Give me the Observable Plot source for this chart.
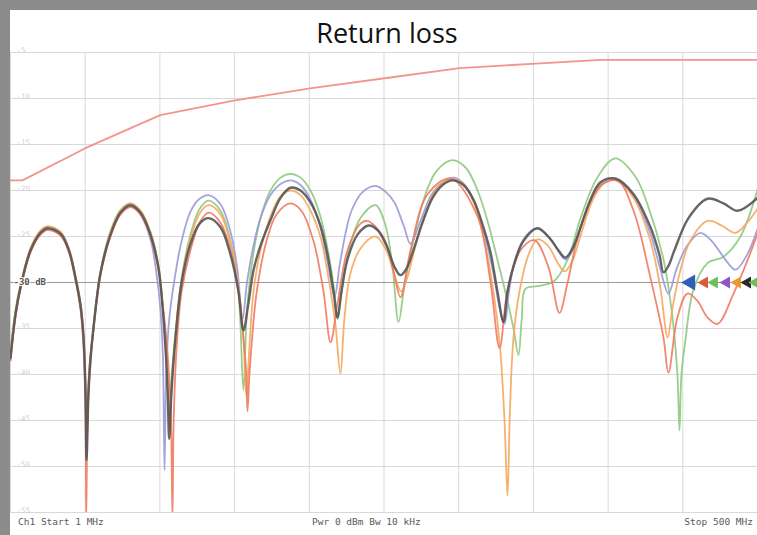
<!DOCTYPE html>
<html>
<head>
<meta charset="utf-8">
<script src="https://cdn.jsdelivr.net/npm/d3@7"></script>
<script src="https://cdn.jsdelivr.net/npm/@observablehq/plot@0.6"></script>
<style>
  html, body { margin: 0; padding: 0; background: #fff; }
  #wrap { position: relative; width: 757px; height: 535px; overflow: hidden; background: #fff; }
  #topband { position: absolute; left: 0; top: 0; width: 757px; height: 10px; background: #8c8c8c; }
  #leftband { position: absolute; left: 0; top: 0; width: 10px; height: 535px; background: #8c8c8c; }
  #title { position: absolute; left: 17px; width: 740px; top: 19px; text-align: center; line-height: 27px;
           font-family: "Open Sans", sans-serif; font-size: 27px; color: #111; }
  #chart { position: absolute; left: 10px; top: 44px; }
  .foot { position: absolute; top: 516px; font-family: "DejaVu Sans Mono", monospace; font-size: 9.5px; color: #5a5a5a; }
</style>
</head>
<body>
<div id="wrap">
  <div id="topband"></div>
  <div id="leftband"></div>
  <div id="title">Return loss</div>
  <div id="chart"></div>
  <div class="foot" style="left:18px">Ch1 Start 1 MHz</div>
  <div class="foot" style="left:312px">Pwr 0 dBm Bw 10 kHz</div>
  <div class="foot" style="right:4px">Stop 500 MHz</div>
</div>
<script>
// grid (MHz and dB)
const xGrid = [1, 50.9, 100.8, 150.7, 200.6, 250.5, 300.4, 350.3, 400.2, 450.1, 500];
const yGrid = [-5, -10, -15, -20, -25, -30, -35, -40, -45, -50, -55];
const yLabels = ["-5", "-10", "-15", "-20", "-25", "-30 dB", "-35", "-40", "-45", "-50", "-55"];

// upper limit-like trace
const limitTrace = [[1,-18.9],[9,-18.9],[51,-15.4],[101,-11.8],[151,-10.2],[201,-8.9],[251,-7.8],[301,-6.7],[352,-6.2],[395,-5.8],[500,-5.8]];

const blackTrace = [[1,-38.2],[4.3,-33.5],[7.7,-30.5],[14.4,-26.5],[21,-24.6],[25.7,-24.1],[34.4,-24.7],[40,-26.5],[44.4,-29.5],[47.8,-32.5],[49.8,-36],[51.1,-42],[51.8,-49.3],[53.1,-42],[54.4,-38.5],[56.4,-35],[61.1,-29],[67.8,-24.8],[74.5,-22.4],[81.1,-21.6],[87.8,-22.4],[94.5,-24.8],[99.9,-28.5],[102.5,-32.5],[104.5,-37],[106,-42],[107,-47],[108.5,-42],[111.2,-36],[115.3,-30],[121.2,-25.8],[127.3,-23.6],[133.3,-23.0],[141.3,-24],[148,-27],[153.3,-31],[156.6,-35.2],[159.9,-32.3],[163.3,-28.7],[168,-26],[174.7,-23.2],[181.4,-20.8],[188,-19.7],[194.7,-20.0],[201.4,-21.3],[208,-23.8],[212.8,-27.0],[216.8,-31],[219.4,-33.8],[222.1,-31],[226.1,-27.5],[232.8,-24.8],[240.2,-23.8],[246.2,-24.3],[252.2,-26.0],[257.5,-28.3],[261.5,-29.2],[265.5,-28.5],[269.5,-26.8],[276.2,-23.5],[282.9,-20.8],[289.6,-19.4],[296.2,-18.9],[303.6,-19.4],[310.3,-21.0],[316.9,-24.0],[321.6,-26.7],[326.3,-31.0],[330.3,-34.3],[333,-31],[336.9,-28.3],[343.6,-25.5],[353,-24.1],[361.7,-25.3],[367,-26.5],[371.7,-27.3],[376.4,-26.3],[381.8,-24.0],[388.4,-21.0],[395.1,-19.1],[405.1,-18.7],[417.2,-20.4],[428.5,-24.0],[434.5,-27.0],[437.2,-28.9],[440.5,-28.2],[444.5,-26.5],[453.9,-23.0],[466.6,-20.9],[477.3,-21.4],[486.6,-22.2],[500,-20.8]];

const redTrace = [[1,-38.5],[4.3,-33.8],[7.7,-30.7],[14.4,-26.7],[21,-24.8],[25.7,-24.3],[34.4,-24.9],[40,-26.7],[44.4,-29.7],[47.8,-33],[49.8,-37],[51.1,-44],[51.6,-55.5],[52.4,-45],[53.8,-39],[56.4,-35.2],[61.1,-29.2],[67.8,-25],[74.5,-22.6],[81.1,-21.8],[87.8,-22.6],[94.5,-25],[99.9,-28.6],[102.5,-32.2],[104.5,-35],[106.5,-39],[108.2,-45],[109.2,-55.5],[110,-45],[112,-37],[115.3,-31],[121.2,-26.5],[127.3,-23.5],[133.3,-22.4],[141.3,-23.5],[148,-26.5],[153.3,-31],[156.6,-36],[158.5,-40],[159.3,-44],[160.6,-40],[161.9,-37.1],[165.3,-31.2],[172,-25.5],[178.7,-22.6],[188,-21.4],[195.3,-22.2],[203.4,-25.5],[210.1,-31],[214.8,-36.5],[219.4,-32.3],[226.1,-26.5],[234.8,-23.6],[239.5,-23.3],[250.2,-25.1],[256.8,-28.7],[261.5,-31.6],[268.2,-26.5],[279.6,-20.4],[295,-18.7],[312.9,-22.8],[321.6,-29.9],[327.7,-37.1],[333,-30.9],[341.7,-26.5],[351,-25.4],[360.3,-28.3],[367.7,-33.3],[373,-30.1],[381.8,-24.0],[395.1,-19.5],[406.4,-18.9],[417.2,-22.2],[428.5,-29.5],[437.2,-36.0],[440.5,-39.8],[446.5,-33.8],[453.2,-31.2],[459.9,-32],[466.6,-33.8],[473.3,-34.5],[484,-31.2],[493.3,-27.6],[500,-24.7]];

const orangeTrace = [[1,-38],[4.3,-33.3],[7.7,-30.3],[14.4,-26.3],[21,-24.4],[25.7,-23.9],[34.4,-24.5],[40,-26.3],[44.4,-29.3],[47.8,-32.3],[49.8,-36],[51.1,-41],[51.8,-47],[53.1,-42],[54.4,-38.5],[56.4,-35],[61.1,-29],[67.8,-24.6],[74.5,-22.2],[81.1,-21.4],[87.8,-22.2],[94.5,-24.6],[99.9,-28.3],[102.5,-32.3],[104.5,-36.8],[106,-41.5],[107.3,-46],[108.6,-41.5],[111.2,-36],[115.3,-30],[121.2,-25.3],[127.3,-22.5],[133.3,-21.6],[141.3,-22.6],[148,-25.8],[153.3,-30.5],[156.6,-36],[158.5,-42.3],[160.6,-37],[163.3,-31],[168,-26.5],[174.7,-22.8],[181.4,-20.6],[188,-20.0],[194.7,-20.5],[201.4,-22.2],[208,-25],[213.4,-29.5],[218,-34.5],[221.4,-39.9],[224,-34],[228.1,-29],[234.8,-26.3],[244.8,-25],[252,-26.5],[258,-29.5],[262,-31],[266,-29.5],[270,-27],[277,-23],[284,-20.2],[291,-19],[298,-18.8],[305,-19.6],[312,-22],[318.3,-26],[323.6,-31],[328,-37],[331,-45],[333,-53.2],[334.6,-44],[337,-36],[341,-31],[347,-27],[353,-25.3],[360,-26],[367,-28],[371,-28.8],[376,-27.8],[382,-24.8],[390,-21],[397,-19.3],[405.1,-18.9],[417.2,-20.8],[428.5,-25.5],[435,-30.5],[440,-36],[443,-33],[448,-29],[455,-25.5],[466.6,-23.3],[476,-23.8],[485.3,-24.6],[493,-23.5],[500,-22]];

const lavenderTrace = [[1,-38.4],[4.3,-33.6],[7.7,-30.6],[14.4,-26.6],[21,-24.7],[25.7,-24.2],[34.4,-24.8],[40,-26.6],[44.4,-29.6],[47.8,-32.7],[49.8,-36.5],[51.1,-42.5],[51.8,-48],[53.1,-42],[54.4,-38.5],[56.4,-35],[61.1,-29],[67.8,-24.7],[74.5,-22.3],[81.1,-21.6],[87.8,-22.6],[94.5,-25.3],[98.5,-29],[101.2,-33],[102.8,-38],[103.9,-50.4],[105,-40],[107,-34],[111.2,-29],[115.3,-25.5],[121.2,-22.3],[127.3,-20.9],[133.3,-20.5],[141.3,-21.5],[148,-24.5],[152.5,-28.5],[156,-34],[159,-30],[163.3,-26],[168,-23],[174.7,-20.5],[181.4,-19.3],[188,-18.9],[194.7,-19.4],[201.4,-21],[208,-24],[213,-28],[217.5,-31.5],[221,-28],[225,-24.5],[228.8,-22.2],[236,-20.2],[244.8,-19.5],[252,-20.2],[257.5,-21.3],[264,-24],[268.2,-25.8],[274.9,-23.3],[282,-20.5],[289,-19.2],[297,-18.6],[304,-19.3],[311,-21.3],[318,-25],[323.6,-29],[328,-33],[331,-34.5],[334,-31],[338,-27.5],[345,-25],[353,-24.1],[362,-25.3],[371.7,-27.5],[378,-26],[385,-22.5],[395,-19.4],[405.1,-18.8],[417.2,-20.6],[428.5,-24.7],[435,-28.5],[440.5,-31.2],[446,-28.5],[453,-26],[461.9,-24.6],[470,-25.6],[478,-27.4],[485.3,-28.6],[493,-27],[500,-24.2]];

const greenTrace = [[1,-37.4],[4.3,-33],[7.7,-30.2],[14.4,-26.3],[21,-24.4],[25.7,-23.9],[34.4,-24.5],[40,-26.3],[44.4,-29.3],[47.8,-32.3],[49.8,-35.8],[51.1,-41],[51.8,-46],[53.1,-41],[54.4,-38],[56.4,-34.7],[61.1,-28.8],[67.8,-24.4],[74.5,-22.1],[81.1,-21.4],[87.8,-22.2],[94.5,-24.5],[99.9,-28.2],[102.5,-32.2],[104.5,-36.5],[106,-41],[107,-45],[108.3,-41],[111.2,-35.5],[115.3,-29.5],[121.2,-24.8],[127.3,-22],[133.3,-21.1],[141.3,-22.2],[148,-25.5],[153.3,-31],[156.6,-41.7],[159,-33],[163.3,-26.8],[168,-23],[174.7,-20],[181.4,-18.6],[188,-18.2],[194.7,-18.6],[201.4,-20],[208,-22.8],[213,-26.5],[217,-30.5],[219.5,-34],[222,-31],[227,-26.5],[234.8,-23],[244.8,-21.6],[251,-23.5],[256,-28],[260.2,-34.3],[264,-30.5],[270,-25.5],[277,-21],[285,-18],[296,-16.7],[305,-17.5],[313,-20],[320,-23.5],[327,-28],[333,-32],[337,-35],[340.3,-37.9],[342.5,-34],[345,-30.7],[353,-30.4],[363.8,-29.9],[373,-27.6],[381.8,-23],[393,-18.6],[405.1,-16.5],[418.5,-18.5],[426.5,-21.5],[437.2,-27.5],[443.2,-33.8],[446.5,-40],[447.9,-46.1],[449.2,-40],[451.9,-36.2],[457.2,-30.8],[466.6,-27.9],[477.3,-27.2],[488.6,-25.0],[500,-19.9]];

const traceNames = ["green", "lavender", "orange", "red", "black"];
const traceColors = ["#8ec97f", "#9a9ad8", "#f6a85e", "#f07a60", "#555555"];
const traceWidths = [1.8, 1.8, 1.8, 1.8, 2.4];
const traceData = [greenTrace, lavenderTrace, orangeTrace, redTrace, blackTrace];

// reference-level markers at -30 dB
const markerMHz = [455.2, 464.6, 471.2, 479.3, 486.6, 493.3, 498.6];
const markerColors = ["#2f5fb5", "#d95b3c", "#6cbf5a", "#8a55c5", "#f0962e", "#2a2a2a", "#6cbf5a"];
const markerSizes = [6, 4.5, 4.5, 4.5, 4.5, 4.5, 4.5];

const rows = (arr) => arr.map(([f, db]) => ({f, db}));

const marks = [
  Plot.ruleY(yGrid, {stroke: "#d9d9d9", strokeWidth: 1}),
  Plot.ruleX(xGrid, {stroke: "#d9d9d9", strokeWidth: 1}),
  Plot.ruleY([-30], {stroke: "#9a9a9a", strokeWidth: 1.2}),
  Plot.text(yGrid.map((v, i) => ({v, label: yLabels[i]})).filter(d => d.v !== -30),
    {x: () => 1, y: "v", text: "label", textAnchor: "start", dx: 6, dy: -2, fill: "#d2d2d2", fontSize: 7.5}),
  Plot.line(rows(limitTrace), {x: "f", y: "db", stroke: "#f3958a", strokeWidth: 1.8}),
];
traceData.forEach((t, i) => {
  marks.push(Plot.line(rows(t), {x: "f", y: "db", stroke: traceColors[i], strokeWidth: traceWidths[i],
    curve: "catmull-rom", strokeOpacity: 0.9, clip: true}));
});
marks.push(Plot.text([{l: "-30 dB"}], {x: () => 1, y: () => -30, text: "l", textAnchor: "start", dx: 3,
  fill: "#555", fontSize: 9, fontWeight: "bold", stroke: "white", strokeWidth: 2}));
markerMHz.forEach((m, i) => {
  marks.push(Plot.dot([m], {x: d => d, y: () => -30, symbol: "triangle", rotate: -90,
    r: markerSizes[i], fill: markerColors[i], stroke: "none"}));
});

const chart = Plot.plot({
  width: 747,
  height: 478,
  marginTop: 8,
  marginBottom: 10,
  marginLeft: 0,
  marginRight: 0,
  x: {domain: [1, 500], axis: null},
  y: {domain: [-55, -5], axis: null},
  style: {background: "white", fontFamily: "DejaVu Sans Mono, monospace", overflow: "visible"},
  marks
});
document.getElementById("chart").appendChild(chart);
</script>
</body>
</html>
